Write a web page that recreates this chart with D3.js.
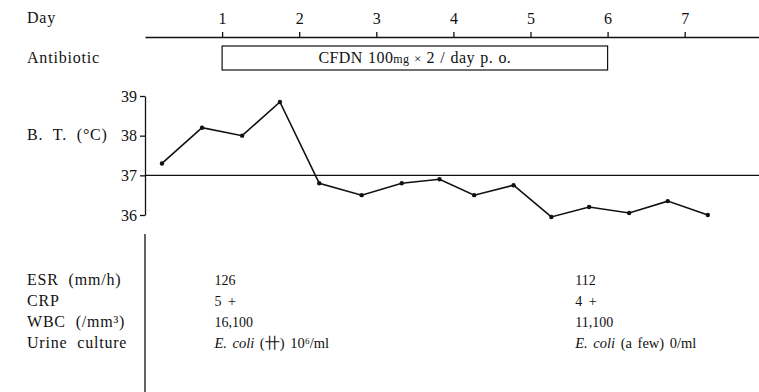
<!DOCTYPE html>
<html>
<head>
<meta charset="utf-8">
<script src="https://cdn.jsdelivr.net/npm/d3@7"></script>
<style>
  body { margin: 0; background: #fff; }
  svg { display: block; }
  text { font-family: "Liberation Serif", "DejaVu Serif", serif; fill: #111; }
  .axis path, .axis line { stroke: #111; stroke-width: 1.3; }
  .axis text { font-size: 16px; font-family: "Liberation Serif", serif; fill: #111; }
  .label { font-size: 16px; letter-spacing: 0.8px; word-spacing: 2px; }
</style>
</head>
<body>
<div id="chart"></div>
<script>
// day ticks on the top axis
const dayTicks = [1, 2, 3, 4, 5, 6, 7];

// body temperature, twice daily
const btDays = [0.22, 0.74, 1.26, 1.75, 2.26, 2.81, 3.33, 3.82, 4.27, 4.78, 5.27, 5.76, 6.28, 6.78, 7.30];
const btValues = [37.3, 38.2, 38.0, 38.85, 36.8, 36.5, 36.8, 36.9, 36.5, 36.75, 35.95, 36.2, 36.05, 36.35, 36.0];
const btTicks = [36, 37, 38, 39];

// antibiotic period
const antibioticStart = 1;
const antibioticEnd = 6;

// lab results, taken on two days
const labDays = [0.9, 5.58];
const labRows = ["ESR (mm/h)", "CRP", "WBC (/mm³)", "Urine culture"];
const esrValues = ["126", "112"];
const crpValues = ["5 +", "4 +"];
const wbcValues = ["16,100", "11,100"];
const urineValues = [["E. coli", " (卄) 10⁶/ml"], ["E. coli", " (a few) 0/ml"]];

const width = 759;
const height = 392;

const svg = d3.select("#chart")
    .append("svg")
    .attr("width", width)
    .attr("height", height);

const x = d3.scaleLinear().domain([0, 8]).range([145, 145 + 8 * 77.1]);
const y = d3.scaleLinear().domain([36, 39]).range([215, 96]);

// Day axis
svg.append("g")
    .attr("class", "axis")
    .attr("transform", "translate(0,37)")
    .call(d3.axisTop(x).tickValues(dayTicks).tickSize(5).tickSizeOuter(0).tickFormat(d3.format("d")))
    .call(g => g.selectAll("text").attr("dy", "-0.3em"));

svg.append("text").attr("class", "label").attr("x", 27).attr("y", 23).text("Day");

// Antibiotic box
svg.append("text").attr("class", "label").attr("x", 27).attr("y", 63).text("Antibiotic");
svg.append("rect")
    .attr("x", x(antibioticStart))
    .attr("y", 46)
    .attr("width", x(antibioticEnd) - x(antibioticStart))
    .attr("height", 24)
    .attr("fill", "none")
    .attr("stroke", "#111")
    .attr("stroke-width", 1.2);

const drug = svg.append("text")
    .attr("x", (x(antibioticStart) + x(antibioticEnd)) / 2)
    .attr("y", 63)
    .attr("text-anchor", "middle")
    .style("font-size", "16px")
    .style("letter-spacing", "0.4px")
    .style("word-spacing", "1px");
drug.append("tspan").text("CFDN  100");
drug.append("tspan").style("font-size", "12px").text("mg");
drug.append("tspan").style("font-size", "13px").text(" × ");
drug.append("tspan").text("2 / day  p. o.");

// Temperature axis
svg.append("g")
    .attr("class", "axis")
    .attr("transform", `translate(${x(0)},0)`)
    .call(d3.axisLeft(y).tickValues(btTicks).tickSize(5).tickSizeOuter(0).tickFormat(d3.format("d")));

svg.append("text").attr("class", "label").attr("x", 27).attr("y", 140)
    .style("word-spacing", "5px").text("B. T. (°C)");

// 37 reference line
svg.append("line")
    .attr("x1", x(0)).attr("x2", width)
    .attr("y1", y(37)).attr("y2", y(37))
    .attr("stroke", "#111")
    .attr("stroke-width", 1.2);

const bt = btDays.map((d, i) => [d, btValues[i]]);

svg.append("path")
    .datum(bt)
    .attr("fill", "none")
    .attr("stroke", "#111")
    .attr("stroke-width", 1.6)
    .attr("d", d3.line().x(d => x(d[0])).y(d => y(d[1])));

svg.append("g")
    .selectAll("circle")
    .data(bt)
    .enter()
    .append("circle")
    .attr("cx", d => x(d[0]))
    .attr("cy", d => y(d[1]))
    .attr("r", 2.2)
    .attr("fill", "#111");

// lab section
svg.append("line")
    .attr("x1", x(0)).attr("x2", x(0))
    .attr("y1", 234).attr("y2", height)
    .attr("stroke", "#111")
    .attr("stroke-width", 1.3);

const rowY = d3.scalePoint().domain(labRows).range([285, 348]);

svg.append("g")
    .selectAll("text")
    .data(labRows)
    .enter()
    .append("text")
    .attr("class", "label")
    .attr("x", 27)
    .attr("y", d => rowY(d))
    .style("word-spacing", "5px")
    .text(d => d);

const simpleRows = [esrValues, crpValues, wbcValues];
simpleRows.forEach((vals, r) => {
    svg.append("g")
        .selectAll("text")
        .data(vals)
        .enter()
        .append("text")
        .attr("x", (d, i) => x(labDays[i]))
        .attr("y", rowY(labRows[r]))
        .style("font-size", "14px")
        .style("word-spacing", "3px")
        .text(d => d);
});

urineValues.forEach((v, i) => {
    const t = svg.append("text")
        .attr("x", x(labDays[i]))
        .attr("y", rowY(labRows[3]))
        .style("font-size", "14.5px")
        .style("word-spacing", "2px");
    t.append("tspan").style("font-style", "italic").text(v[0]);
    t.append("tspan").text(v[1]);
});
</script>
</body>
</html>
